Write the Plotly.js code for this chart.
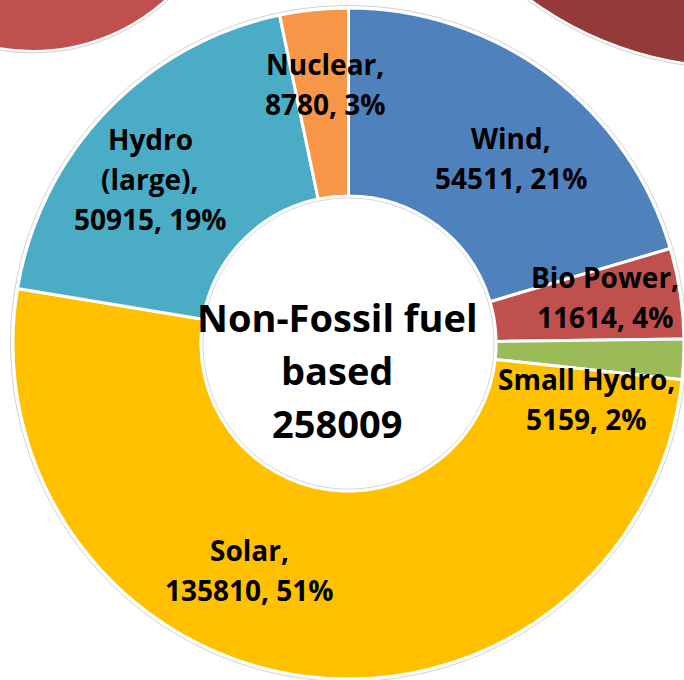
<!DOCTYPE html>
<html>
<head>
<meta charset="utf-8">
<script src="https://cdn.plot.ly/plotly-3.0.1.min.js"></script>
<style>html,body{margin:0;padding:0;background:#fff;}#chart{width:684px;height:680px;}</style>
</head>
<body>
<div id="chart"></div>
<script>
// ---- data ----
const labels = ['Wind', 'Bio Power', 'Small Hydro', 'Solar', 'Hydro (large)', 'Nuclear'];
const values = [54511, 11614, 5159, 135810, 50915, 8780];
const percentLabels = ['21%', '4%', '2%', '51%', '19%', '3%'];
const colors = ['#4F81BD', '#C0504D', '#9BBB59', '#FFC000', '#4BACC6', '#F79646'];
const centerTitle = ['Non-Fossil fuel', 'based'];
const centerTotal = '258009';

// ---- layout helpers (pixel -> paper, margins are zero) ----
const W = 684, H = 680;
const px = x => x / W;
const py = y => 1 - y / H;

// label block centres (px) and line spacing
const labelPos = {
  'Wind': [511, 158],
  'Bio Power': [605, 297],
  'Small Hydro': [586, 399],
  'Solar': [249, 570],
  'Hydro (large)': [150, 179],
  'Nuclear': [325, 84]
};
const wrapNames = {'Hydro (large)': ['Hydro', '(large),']};
const labelFont = {family: 'Open Sans, sans-serif', size: 28, color: '#000', weight: 700};
const lineGap = 40;

const annotations = [];
labels.forEach((name, i) => {
  const lines = (wrapNames[name] || [name + ',']).concat([values[i] + ', ' + percentLabels[i]]);
  const [cx, cy] = labelPos[name];
  const top = cy - (lines.length - 1) * lineGap / 2;
  lines.forEach((t, k) => {
    annotations.push({
      text: t, xref: 'paper', yref: 'paper',
      x: px(cx), y: py(top + k * lineGap), xanchor: 'center', yanchor: 'middle',
      showarrow: false, font: labelFont
    });
  });
});
const centerLines = centerTitle.concat([centerTotal]);
centerLines.forEach((t, k) => {
  annotations.push({
    text: t, xref: 'paper', yref: 'paper',
    x: px(337), y: py(317 + k * 53), xanchor: 'center', yanchor: 'middle',
    showarrow: false, font: {family: 'Open Sans, sans-serif', size: 38, color: '#000', weight: 700}
  });
});

// donut geometry in px
const dx0 = 13, dy0 = 7;
const R = Math.min(W - dx0, H - dy0) / 2;
const C = [dx0 + (W - dx0) / 2, dy0 + (H - dy0) / 2];
const holeFrac = 0.44;

function circ(cx, cy, r, fill, line, lw) {
  return {type: 'circle', xref: 'paper', yref: 'paper', layer: 'below',
    x0: px(cx - r), x1: px(cx + r), y0: py(cy + r), y1: py(cy - r),
    fillcolor: fill, line: {color: line, width: lw}};
}
const shapes = [
  // fragments of neighbouring charts
  circ(33, -147, 200, 'rgba(0,0,0,0)', '#cfcfcf', 1),
  circ(33, -147, 197, '#C0504D', 'rgba(0,0,0,0)', 0),
  circ(736, -281, 350, 'rgba(0,0,0,0)', '#cfcfcf', 1),
  circ(736, -281, 347, '#943A38', 'rgba(0,0,0,0)', 0),
  // soft outline of the donut
  circ(C[0], C[1], R + 2.5, 'rgba(0,0,0,0)', '#d2d2d2', 1)
];

const trace = {
  type: 'pie',
  labels: labels,
  values: values,
  hole: holeFrac,
  sort: false,
  direction: 'clockwise',
  rotation: 0,
  textinfo: 'none',
  hoverinfo: 'none',
  marker: {colors: colors, line: {color: '#ffffff', width: 3}},
  domain: {x: [dx0 / W, 1], y: [0, 1 - dy0 / H]},
  showlegend: false
};

const layout = {
  width: W, height: H,
  margin: {l: 0, r: 0, t: 0, b: 0},
  paper_bgcolor: '#ffffff',
  plot_bgcolor: '#ffffff',
  showlegend: false,
  annotations: annotations,
  shapes: shapes.concat([{
    type: 'circle', xref: 'paper', yref: 'paper', layer: 'above',
    x0: px(C[0] - R * holeFrac + 2), x1: px(C[0] + R * holeFrac - 2),
    y0: py(C[1] + R * holeFrac - 2), y1: py(C[1] - R * holeFrac + 2),
    fillcolor: 'rgba(0,0,0,0)', line: {color: '#d8d8d8', width: 1}
  }])
};

Plotly.newPlot('chart', [trace], layout, {staticPlot: true, displayModeBar: false});
</script>
</body>
</html>
